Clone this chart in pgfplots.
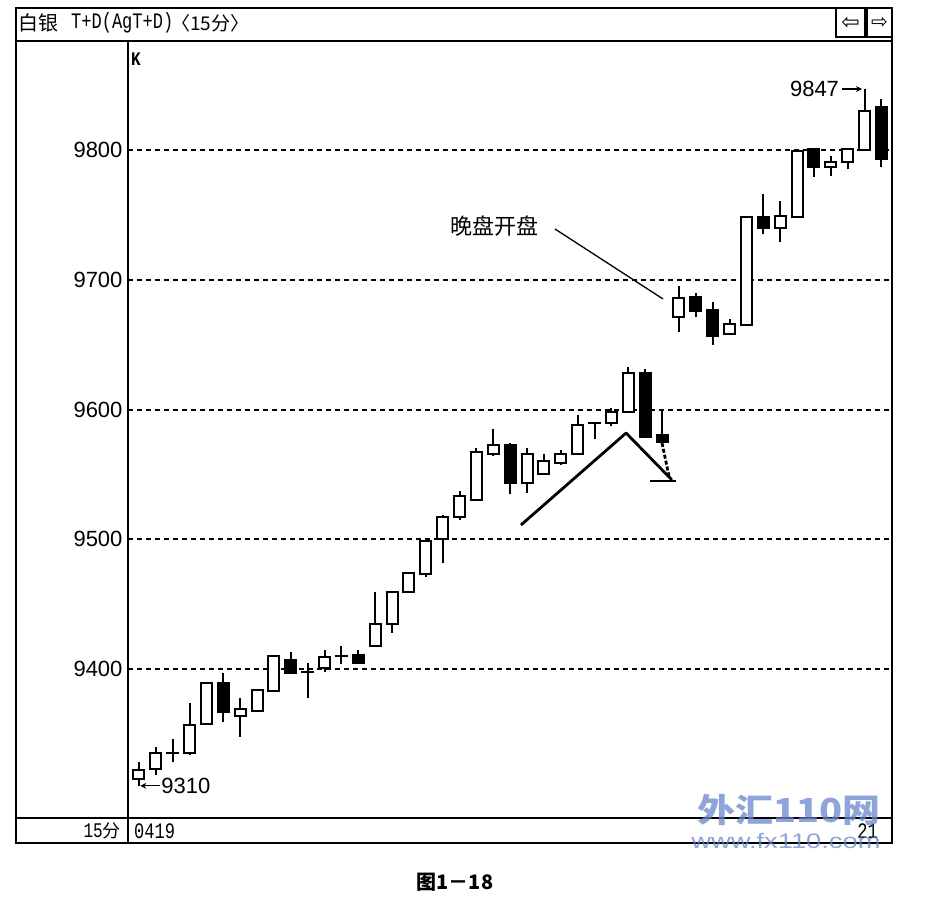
\documentclass[border=0pt]{standalone}
\usepackage{pgfplots}
\pgfplotsset{compat=1.18}
\usepackage{pgfplotstable}
\usetikzlibrary{arrows.meta}
\usepackage{graphicx}
\usepackage{fontspec}
\setmainfont{Liberation Sans}
\newfontfamily\cjk{Noto Sans CJK SC}
\newfontfamily\mono{Liberation Mono}
\newfontfamily\dejavu{DejaVu Sans}
\definecolor{wm}{RGB}{105,135,205}

% lo = low, bot/top = lower/upper end of body, hi = high, w = 1 hollow (rising), 0 filled (falling)
\pgfplotstableread{
lo bot top hi w
9310 9315 9322 9328 1
9318 9323 9335 9340 1
9328 9335 9335 9346 1
9334 9335 9357 9374 1
9358 9358 9389 9390 1
9359 9367 9389 9397 0
9348 9364 9369 9378 1
9367 9368 9384 9385 1
9382 9383 9410 9411 1
9397 9397 9407 9413 0
9378 9398 9398 9405 1
9398 9401 9409 9415 1
9404 9410 9410 9418 1
9405 9405 9411 9415 0
9418 9418 9435 9459 1
9428 9435 9459 9460 1
9459 9459 9474 9474 1
9471 9473 9499 9500 1
9482 9500 9517 9519 1
9515 9517 9533 9537 1
9530 9530 9567 9570 1
9564 9566 9573 9585 1
9535 9543 9573 9574 0
9536 9543 9566 9570 1
9550 9550 9560 9566 1
9557 9559 9566 9569 1
9566 9566 9588 9596 1
9577 9590 9590 9590 1
9587 9590 9598 9601 1
9598 9598 9628 9633 1
9579 9579 9628 9631 0
9575 9575 9580 9600 0
9660 9671 9686 9695 1
9671 9676 9687 9690 0
9650 9657 9677 9683 0
9658 9658 9666 9670 1
9665 9665 9748 9749 1
9735 9740 9748 9766 0
9729 9740 9749 9761 1
9748 9748 9799 9800 1
9779 9787 9801 9801 0
9780 9787 9791 9795 1
9785 9791 9801 9801 1
9800 9800 9830 9847 1
9787 9793 9833 9839 0
}\candles

\begin{document}
\begin{tikzpicture}
\path[use as bounding box] (0pt,0pt) rectangle (935pt,-903pt);

\begin{axis}[
  at={(128pt,-818pt)}, anchor=south west,
  scale only axis, width=764pt, height=777pt,
  xmin=0.35, xmax=45.63, ymin=9285.2, ymax=9884.0,
  axis line style={draw=none},
  xtick=\empty,
  ytick={9400,9500,9600,9700,9800},
  yticklabels={9400,9500,9600,9700,9800},
  major tick length=0pt,
  ymajorgrids,
  major grid style={black, line width=2pt, dash pattern=on 5pt off 4pt},
  yticklabel style={font=\fontsize{22}{22}\selectfont, xshift=-2pt},
  clip=false,
]
% wicks: low to high
\addplot[draw=none, mark=none,
  error bars/.cd, y dir=plus, y explicit, error mark=none,
  error bar style={draw=black, line width=2pt}]
  table[x expr=\coordindex+1, y=lo, y error plus expr=\thisrow{hi}-\thisrow{lo}] {\candles};
% bodies: black outline / solid body
\addplot[draw=none, mark=none,
  error bars/.cd, y dir=plus, y explicit, error mark=none,
  error bar style={draw=black, line width=13pt}]
  table[x expr=\coordindex+1, y expr=\thisrow{bot}-0.77, y error plus expr=\thisrow{top}-\thisrow{bot}+1.54] {\candles};
% hollow interior of rising candles
\addplot[draw=none, mark=none,
  error bars/.cd, y dir=plus, y explicit, error mark=none,
  error bar style={draw=white, line width=9pt}]
  table[x expr=\coordindex+1, y expr=\thisrow{bot}+0.77, y error plus expr={\thisrow{w}*max(\thisrow{top}-\thisrow{bot}-1.54,0)}] {\candles};
% annotations
\draw[line width=1.3pt] (axis cs:25.66,9739.1) -- (axis cs:32.06,9685.2);
\node[inner sep=0] at (axis cs:22.10,9741.4) {\cjk\fontsize{22}{22}\selectfont 晚盘开盘};
\draw[line width=2.8pt, line join=round] (axis cs:23.64,9511.0) -- (axis cs:29.87,9581.9) -- (axis cs:32.59,9545.7);
\draw[line width=2.8pt] (axis cs:31.29,9544.9) -- (axis cs:32.83,9544.9);
\draw[line width=2.8pt, dash pattern=on 4pt off 2pt] (axis cs:32.0,9574.2) -- (axis cs:32.42,9548);
\draw[-{Stealth[length=6pt,width=6pt]}, line width=1.2pt] (axis cs:2.25,9310) -- (axis cs:1.08,9310);
\node[anchor=west, inner sep=0] at (axis cs:2.32,9310) {\fontsize{22}{22}\selectfont 9310};
\node[anchor=east, inner sep=0] at (axis cs:42.5,9847) {\fontsize{22}{22}\selectfont 9847};
\draw[-{Stealth[length=6pt,width=6pt]}, line width=1.2pt] (axis cs:42.68,9847) -- (axis cs:43.85,9847);
\end{axis}

% frame
\draw[line width=2pt] (16pt,-8pt) rectangle (892pt,-843pt);
\draw[line width=2pt] (16pt,-41pt) -- (892pt,-41pt);
\draw[line width=2.6pt] (16pt,-818pt) -- (892pt,-818pt);
\draw[line width=2pt] (128pt,-41pt) -- (128pt,-843pt);
\draw[line width=1.8pt] (836pt,-8pt) rectangle (865pt,-37pt);
\draw[line width=1.8pt] (867pt,-8pt) rectangle (892pt,-37pt);
\node[inner sep=0] at (850.5pt,-23pt) {\dejavu\fontsize{22}{22}\selectfont ⇦};
\node[inner sep=0] at (879.5pt,-23pt) {\dejavu\fontsize{20}{20}\selectfont ⇨};

% header
\node[anchor=west, inner sep=0] at (18pt,-23pt) {\cjk\fontsize{20}{20}\selectfont 白银};
\node[anchor=west, inner sep=0] at (71pt,-23pt) {\scalebox{1}[1.3]{\mono\fontsize{17}{17}\selectfont T+D(AgT+D)}};
\node[anchor=west, inner sep=0] at (171pt,-23pt) {\cjk\fontsize{19}{19}\selectfont 〈15分〉};
\node[anchor=west, inner sep=0] at (131pt,-59pt) {\scalebox{1}[1.2]{\mono\bfseries\fontsize{16}{16}\selectfont K}};

% bottom row
\node[anchor=east, inner sep=0] at (121pt,-831pt) {\scalebox{1}[1.3]{\mono\fontsize{16}{16}\selectfont 15}{\cjk\fontsize{18}{18}\selectfont 分}};
\node[anchor=west, inner sep=0] at (134pt,-831pt) {\scalebox{1}[1.3]{\mono\fontsize{17}{17}\selectfont 0419}};
\node[anchor=east, inner sep=0] at (878pt,-831pt) {\scalebox{1}[1.3]{\mono\fontsize{17}{17}\selectfont 21}};

% caption
\node[inner sep=0] at (455pt,-882pt) {\cjk\bfseries\fontsize{20}{20}\selectfont 图1－18};

% watermark
\node[inner sep=0, text=wm, opacity=0.75] at (789pt,-810pt) {\scalebox{1.15}[1]{\cjk\bfseries\fontsize{33}{33}\selectfont 外汇110网}};
\node[inner sep=0, text=wm, opacity=0.75] at (786pt,-841pt) {\scalebox{1.3}[1]{\fontsize{21}{21}\selectfont www.fx110.com}};
\end{tikzpicture}
\end{document}
